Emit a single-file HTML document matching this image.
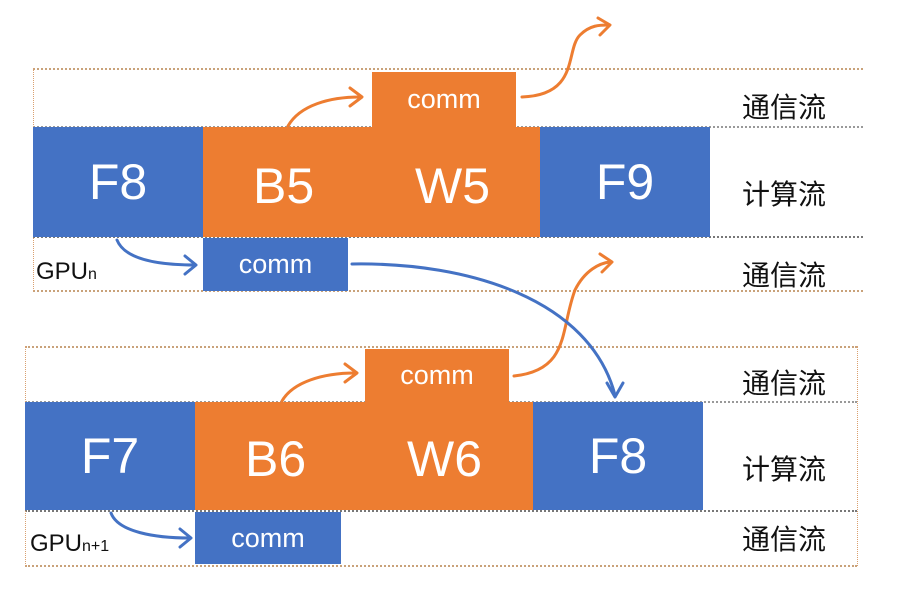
<!DOCTYPE html>
<html><head><meta charset="utf-8"><style>
body{margin:0;width:900px;height:596px;background:#fff;overflow:hidden;position:relative;font-family:"Liberation Sans","Noto Sans CJK SC",sans-serif}
.b{position:absolute;color:#fff;display:flex;align-items:center;justify-content:center}
.bl{background:#4472c4}.or{background:#ed7d31}
.big{font-size:50px}.c{font-size:27px}
.lbl{position:absolute;font-size:28px;color:#111;font-family:"Liberation Sans","Noto Sans CJK SC",sans-serif}
.dl{position:absolute;border-top:2px dotted #c9a27a;height:0}
.dv{position:absolute;border-left:1px dotted #d9a070;width:0}
svg{position:absolute;left:0;top:0}
</style></head><body>
<div class="dl" style="left:33px;top:68px;width:830px"></div>
<div class="dl" style="left:33px;top:126px;width:830px;border-color:#999"></div>
<div class="dl" style="left:33px;top:236px;width:830px;border-color:#777"></div>
<div class="dl" style="left:33px;top:290px;width:830px"></div>
<div class="dv" style="left:33px;top:68px;height:223px"></div>
<div class="b or c" style="left:372px;top:72px;width:144px;height:55px">comm</div>
<div class="b bl big" style="left:33px;top:127px;width:170px;height:110px">F8</div>
<div class="b or big" style="left:203px;top:127px;width:337px;height:110px"><span style="position:absolute;left:50px;top:30px">B5</span><span style="position:absolute;left:212px;top:30px">W5</span></div>
<div class="b bl big" style="left:540px;top:127px;width:170px;height:110px">F9</div>
<div class="b bl c" style="left:203px;top:238px;width:145px;height:53px">comm</div>
<div class="lbl" style="left:36px;top:258px;font-size:24px">GPU<span style="font-size:16px">n</span></div>
<div class="lbl" style="left:742px;top:86px">通信流</div>
<div class="lbl" style="left:742px;top:173px">计算流</div>
<div class="lbl" style="left:742px;top:254px">通信流</div>

<div class="dl" style="left:25px;top:346px;width:832px"></div>
<div class="dl" style="left:25px;top:401px;width:832px;border-color:#999"></div>
<div class="dl" style="left:25px;top:510px;width:832px;border-color:#777"></div>
<div class="dl" style="left:25px;top:565px;width:832px"></div>
<div class="dv" style="left:25px;top:346px;height:220px"></div>
<div class="dv" style="left:857px;top:346px;height:220px"></div>
<div class="b or c" style="left:365px;top:349px;width:144px;height:53px">comm</div>
<div class="b bl big" style="left:25px;top:402px;width:170px;height:108px">F7</div>
<div class="b or big" style="left:195px;top:402px;width:338px;height:108px"><span style="position:absolute;left:50px;top:28px">B6</span><span style="position:absolute;left:212px;top:28px">W6</span></div>
<div class="b bl big" style="left:533px;top:402px;width:170px;height:108px">F8</div>
<div class="b bl c" style="left:195px;top:512px;width:146px;height:52px">comm</div>
<div class="lbl" style="left:30px;top:530px;font-size:24px">GPU<span style="font-size:16px">n+1</span></div>
<div class="lbl" style="left:742px;top:362px">通信流</div>
<div class="lbl" style="left:742px;top:448px">计算流</div>
<div class="lbl" style="left:742px;top:518px">通信流</div>

<svg width="900" height="596" fill="none" stroke-width="3" stroke-linecap="round" stroke-linejoin="round">
<g stroke="#ed7d31">
<path d="M288 126 C300 105 330 97 360 97"/><path d="M350 88 L362 97 L350 106"/>
<path d="M522 97 C580 95 565 50 580 35 C590 25 600 25 608 25"/><path d="M598 18 L610 25 L600 35"/>
<path d="M282 401 C293 382 323 373 355 373"/><path d="M345 364 L357 373 L345 382"/>
<path d="M514 376 C570 370 560 330 575 290 C585 270 600 263 610 262"/><path d="M600 254 L612 262 L602 272"/>
</g>
<g stroke="#4472c4">
<path d="M117 240 C125 260 160 265 195 265"/><path d="M185 256 L196 265 L185 274"/>
<path d="M352 264 C470 262 590 300 615 395"/><path d="M607 383 L615 397 L623 383"/>
<path d="M111 513 C118 532 155 538 190 538"/><path d="M180 529 L191 538 L180 547"/>
</g>
</svg>
</body></html>
